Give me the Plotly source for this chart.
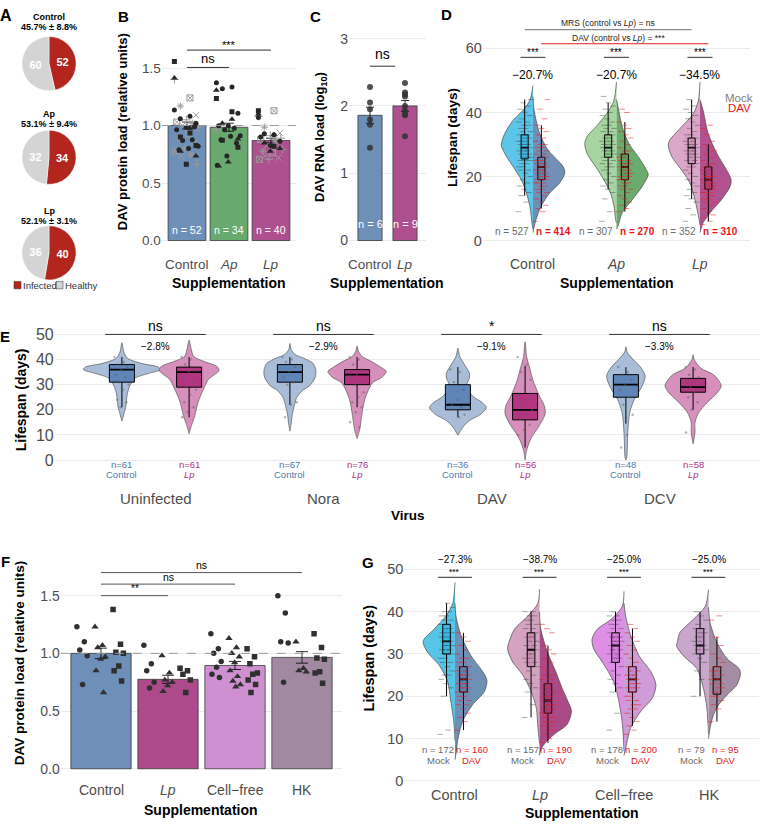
import plotly.graph_objects as go

# ======================= DATA =======================
# Panel A (pies)
A_GROUPS = ["Control", "Ap", "Lp"]
A_INFECTED = [52, 34, 40]
A_HEALTHY = [60, 32, 36]
A_PCT = ["45.7% ± 8.8%", "53.1% ± 9.4%", "52.1% ± 3.1%"]

# Panel B (DAV protein load)
B_CATS = ["Control", "<i>Ap</i>", "<i>Lp</i>"]
B_MEAN = [1.0, 0.985, 0.87]
B_SE = [0.03, 0.035, 0.02]
B_N = [52, 34, 40]
B_CIRCLE = [[1.134, 1.08, 1.06, 1.02, 0.986, 0.963, 0.877, 0.87, 0.82, 0.80, 0.79, 0.99],
            [1.371, 1.334, 1.32, 1.106, 0.997, 0.997, 0.977, 0.963, 0.911, 0.906, 0.877, 0.849, 0.734, 0.654],
            [1.07, 0.92, 0.929, 0.863, 0.826, 0.90]]
B_TRIANGLE = [[1.414, 0.977, 0.777, 0.734],
              [1.306, 1.054, 1.02, 0.883, 0.683, 0.649],
              [1.10, 0.92, 0.849, 0.80, 0.777]]
B_SQUARE = [[1.557, 0.934, 0.90, 0.826, 0.663],
            [1.234, 1.12, 0.871, 0.811],
            [1.129, 0.82]]
B_GRAY = [[1.40, 1.24, 1.17, 1.09, 1.05, 1.03, 1.02, 1.0, 0.986, 0.926, 0.89, 0.85, 0.80, 0.777, 0.749, 0.734, 0.663],
          [0.969],
          [1.08, 1.129, 0.986, 0.934, 0.911, 0.877, 0.849, 0.826, 0.791, 0.763, 0.777, 0.72, 0.706, 0.706, 0.877, 0.734, 0.89]]

# Panel C (DAV RNA load)
C_CATS = ["Control", "<i>Lp</i>"]
C_MEAN = [1.86, 2.0]
C_SE = [0.12, 0.08]
C_N = [6, 9]
C_PTS = [[2.28, 2.05, 1.95, 1.80, 1.72, 1.38],
         [2.34, 2.2, 2.17, 2.14, 2.0, 1.93, 1.88, 1.86, 1.55]]

# Panel D (lifespan, split violins)
D_CATS = ["Control", "<i>Ap</i>", "<i>Lp</i>"]
D_MOCK_STATS = [[25.5, 29, 33, 14, 44], [26, 29, 33, 16, 43], [24, 29, 32, 13, 44]]  # q1, median, q3, lo, hi
D_DAV_STATS = [[19, 23, 26, 10, 36], [19, 23, 27, 9, 37], [16, 19, 23, 6, 30]]
D_N_MOCK = [527, 307, 352]
D_N_DAV = [414, 270, 310]
D_PCT = ["−20.7%", "−20.7%", "−34.5%"]
D_MOCK_Y = [[48.4, 43.8, 40.6, 37.5, 33.4, 29.8, 27.2, 23.1, 19.0, 14.9, 10.8, 4.6, 3.5],
            [49.5, 43.8, 40.6, 36.5, 32.4, 30.3, 27.2, 23.1, 19, 14.9, 10.8, 6.7, 5.5],
            [49.5, 43.8, 39.6, 35.5, 31.4, 29.8, 26.2, 22, 18, 12.8, 7.7, 5]]
D_MOCK_W = [[0, 0.1, 0.32, 0.63, 0.89, 1.0, 0.89, 0.63, 0.37, 0.21, 0.1, 0.02, 0],
            [0, 0.08, 0.24, 0.56, 0.93, 1.0, 0.93, 0.66, 0.4, 0.19, 0.08, 0.03, 0],
            [0, 0.05, 0.21, 0.58, 0.95, 1.0, 0.89, 0.58, 0.32, 0.16, 0.05, 0]]
D_DAV_Y = [[45, 41, 37.5, 33.4, 28.3, 23.1, 21, 18, 14.9, 10.8, 6.7, 3.6, 2.5],
           [44, 40.6, 35.5, 30.3, 25.1, 21.5, 20.5, 16.9, 12.8, 8.7, 4.6, 3.5],
           [44, 40.6, 33.4, 27.2, 22, 19, 16.9, 12.8, 8.7, 5.6, 3.6, 2.5]]
D_DAV_W = [[0, 0.03, 0.1, 0.21, 0.47, 0.95, 1.0, 0.84, 0.53, 0.26, 0.1, 0.02, 0],
           [0, 0.07, 0.18, 0.39, 0.76, 0.97, 1.0, 0.81, 0.5, 0.18, 0.05, 0],
           [0, 0.1, 0.26, 0.53, 0.84, 0.98, 0.95, 0.68, 0.32, 0.1, 0.03, 0]]
D_MOCK_PTS = [
    [9, 12, 14, 15, 16, 17, 18, 19, 20, 21, 22, 22, 23, 23, 24, 24, 25, 25, 25, 26, 26, 26, 27, 27, 27, 28, 28, 28,
     29, 29, 29, 30, 30, 30, 31, 31, 31, 32, 32, 33, 33, 34, 34, 35, 35, 36, 36, 37, 37, 38, 39, 40, 41, 42, 43, 44],
    [6, 9, 13, 15, 16, 17, 18, 19, 20, 21, 22, 23, 23, 24, 24, 25, 25, 26, 26, 26, 27, 27, 27, 28, 28, 28, 29, 29,
     29, 30, 30, 30, 31, 31, 31, 32, 32, 33, 33, 34, 34, 35, 35, 36, 36, 37, 38, 39, 40, 41, 42, 43, 45],
    [6, 8, 10, 12, 13, 14, 15, 16, 17, 18, 19, 20, 21, 22, 23, 23, 24, 24, 25, 25, 26, 26, 27, 27, 27, 28, 28, 28,
     29, 29, 29, 30, 30, 30, 31, 31, 32, 32, 33, 33, 34, 35, 36, 37, 38, 39, 40, 41, 42, 44]]
D_DAV_PTS = [
    [6, 9, 10, 11, 12, 13, 14, 15, 15, 16, 16, 17, 17, 18, 18, 18, 19, 19, 19, 20, 20, 20, 21, 21, 21, 22, 22, 22,
     23, 23, 23, 24, 24, 24, 25, 25, 25, 26, 26, 27, 27, 28, 28, 29, 29, 30, 30, 31, 32, 33, 34, 35, 36, 38, 41, 44],
    [9, 10, 11, 12, 13, 14, 15, 16, 16, 17, 17, 18, 18, 19, 19, 19, 20, 20, 20, 21, 21, 21, 22, 22, 22, 23, 23, 23,
     24, 24, 24, 25, 25, 26, 26, 27, 27, 28, 28, 29, 30, 31, 32, 33, 34, 35, 36, 37, 40, 41],
    [5, 6, 7, 8, 9, 10, 11, 12, 12, 13, 13, 14, 14, 15, 15, 15, 16, 16, 16, 17, 17, 17, 18, 18, 18, 19, 19, 19,
     20, 20, 20, 21, 21, 22, 22, 23, 23, 24, 24, 25, 26, 27, 28, 29, 30, 31, 33, 35, 36]]

# Panel E (lifespan by virus)
E_VIRUS = ["Uninfected", "Nora", "DAV", "DCV"]
E_CTRL_STATS = [[31, 36, 38, 21, 41], [31, 35, 38, 22, 41], [20, 22, 30, 17, 37], [25, 30, 34, 14.5, 37]]
E_LP_STATS = [[29, 35, 37, 17, 41], [30, 34, 36, 21, 41], [16, 20, 26.5, 5, 37.5], [27, 29, 32.5, 20, 37]]
E_N_CTRL = [61, 67, 36, 48]
E_N_LP = [61, 76, 56, 58]
E_PCT = ["−2.8%", "−2.9%", "−9.1%", "−3.3%"]
E_SIG = ["ns", "ns", "*", "ns"]
E_CTRL_Y = [[46.7, 43, 40.5, 38.5, 37, 36, 34.5, 32.7, 30, 27, 24, 21, 19, 17, 15.5],
            [46.4, 44, 41.9, 40.6, 38.5, 36, 33, 29.4, 28, 25, 22, 18, 14, 11.5],
            [44.5, 41.2, 37.3, 34.6, 32.7, 29.4, 25.5, 22.9, 20.9, 18.3, 15.7, 13.1, 9.8],
            [45.1, 43, 39.9, 36.6, 33.4, 29.4, 24.2, 19, 11.1, 0.7, 0]]
E_CTRL_W = [[0, 0.05, 0.15, 0.5, 0.95, 1.0, 0.7, 0.35, 0.22, 0.15, 0.12, 0.1, 0.06, 0.03, 0],
            [0, 0.03, 0.15, 0.35, 0.6, 0.67, 0.66, 0.5, 0.35, 0.18, 0.12, 0.06, 0.03, 0],
            [0, 0.05, 0.2, 0.3, 0.3, 0.22, 0.38, 0.63, 0.74, 0.6, 0.3, 0.13, 0],
            [0, 0.03, 0.2, 0.4, 0.5, 0.42, 0.22, 0.1, 0.05, 0.02, 0]]
E_LP_Y = [[47.7, 44.5, 41.2, 39.2, 37.3, 35.7, 32, 28.1, 22.9, 17.7, 13.7, 10.5],
          [45.4, 43.5, 41.2, 39.2, 36.6, 35.3, 33, 30.7, 24.2, 17.7, 12.4, 8.5],
          [47.1, 41.2, 36, 32, 25.5, 21.6, 18.3, 13.7, 8.5, 3.3, 0],
          [41.9, 40, 36.6, 34, 31.4, 29.4, 26.8, 22.9, 19, 15, 11.1, 6.5]]
E_LP_W = [[0, 0.05, 0.12, 0.4, 0.72, 0.78, 0.5, 0.37, 0.23, 0.15, 0.06, 0],
          [0, 0.03, 0.13, 0.38, 0.65, 0.76, 0.65, 0.4, 0.2, 0.12, 0.07, 0],
          [0, 0.04, 0.13, 0.2, 0.37, 0.5, 0.52, 0.37, 0.15, 0.03, 0],
          [0, 0.03, 0.2, 0.53, 0.68, 0.73, 0.63, 0.37, 0.15, 0.05, 0.05, 0]]
E_CTRL_PTS = [[41, 39, 38, 37, 36, 34, 33, 31, 30, 28, 24, 23, 21],
              [41, 40, 39, 37, 35, 33, 31, 30, 23, 22, 17],
              [36, 35, 31, 28, 24, 22, 21, 20, 18, 17],
              [37, 35, 34, 32, 30, 28, 25, 22, 18, 10, 5]]
E_LP_PTS = [[41, 40, 38, 36, 35, 33, 31, 29, 28, 26, 23, 21, 19, 17],
            [41, 40, 38, 36, 34, 33, 31, 30, 27, 25, 23, 21, 19, 15, 13],
            [41, 38, 35, 32, 29, 26, 24, 22, 20, 18, 16, 14, 12, 10],
            [37, 36, 34, 33, 32, 31, 30, 29, 28, 27, 25, 23, 20, 11]]

# Panel F (DAV protein load, supplement forms)
F_CATS = ["Control", "<i>Lp</i>", "Cell−free", "HK"]
F_MEAN = [1.0, 0.775, 0.895, 0.965]
F_SE = [0.045, 0.035, 0.035, 0.05]
F_CIRCLE = [[1.23, 1.10, 1.03, 0.98, 0.73],
            [1.07, 0.91, 0.85, 0.75, 0.70],
            [1.17, 1.04, 1.0, 0.93, 0.88, 0.82, 0.79],
            [1.50, 1.35, 1.10, 1.09, 0.75]]
F_TRIANGLE = [[1.23, 1.07, 1.05, 0.97, 0.95, 0.85, 0.66],
              [0.98, 0.83, 0.77, 0.75, 0.72, 0.67],
              [1.13, 1.05, 1.0, 0.97, 0.92, 0.85, 0.80, 0.76, 0.73, 0.71],
              [1.10, 0.87, 0.85, 0.84]]
F_SQUARE = [[1.38, 1.08, 1.01, 1.00, 0.89, 0.85, 0.76],
            [0.87, 0.85, 0.82, 0.77, 0.66],
            [1.04, 0.97, 0.91, 0.83, 0.82, 0.77, 0.73, 0.66],
            [1.17, 1.05, 0.96, 0.95, 0.84, 0.83, 0.74]]

# Panel G (lifespan, supplement forms)
G_CATS = ["Control", "<i>Lp</i>", "Cell−free", "HK"]
G_MOCK_STATS = [[30, 33, 37, 20, 42], [27, 31, 35, 15, 40], [28, 32, 35, 21, 40], [30, 32, 36, 20, 40]]
G_DAV_STATS = [[21, 24, 27, 12, 35], [16, 19, 23, 9, 32], [21, 24, 27, 13, 36], [20.5, 24, 27, 14, 34]]
G_N_MOCK = [172, 157, 178, 79]
G_N_DAV = [160, 190, 200, 95]
G_PCT = ["−27.3%", "−38.7%", "−25.0%", "−25.0%"]
G_MOCK_Y = [[46.9, 42, 39, 35.9, 33.5, 32.7, 30.4, 27.3, 23.4, 18.8, 14.1, 9.5],
            [45.3, 42, 39, 35.9, 32.7, 31.2, 28.1, 25, 21.1, 17.2, 12.6, 9],
            [44.8, 41.3, 38.2, 35.9, 33.5, 31.2, 28.1, 23.4, 18.8, 13.4, 7.1],
            [45.2, 41.3, 38.2, 35.1, 32.7, 31.9, 29.6, 26.6, 21.9, 17.2, 11]]
G_MOCK_W = [[0, 0.07, 0.28, 0.65, 0.97, 1.0, 0.86, 0.49, 0.23, 0.13, 0.04, 0],
            [0, 0.05, 0.36, 0.78, 0.96, 1.0, 0.84, 0.52, 0.26, 0.1, 0.05, 0],
            [0, 0.05, 0.4, 0.83, 1.0, 0.95, 0.68, 0.32, 0.16, 0.05, 0],
            [0, 0.1, 0.47, 0.89, 0.98, 1.0, 0.79, 0.37, 0.16, 0.05, 0]]
G_DAV_Y = [[42, 39, 34.3, 29.6, 25.8, 23.8, 21.1, 18, 14.1, 10.2, 6.4, 5],
           [40, 35.9, 30.4, 25.8, 21.9, 18.8, 16.5, 13.4, 11, 8.7, 7.1, 6],
           [42, 39, 34.3, 29.6, 25.8, 22.7, 19.6, 16.5, 12.6, 8.7, 6],
           [41, 37.4, 32.7, 28.9, 26.6, 25.4, 22.7, 20.3, 18, 15.7, 12.6, 10]]
G_DAV_W = [[0, 0.03, 0.19, 0.5, 0.87, 1.0, 0.92, 0.55, 0.24, 0.1, 0.03, 0],
           [0, 0.04, 0.25, 0.51, 0.71, 0.89, 1.0, 0.87, 0.46, 0.15, 0.03, 0],
           [0, 0.05, 0.21, 0.47, 0.84, 1.0, 0.89, 0.53, 0.21, 0.08, 0],
           [0, 0.05, 0.26, 0.58, 0.95, 1.0, 0.89, 0.58, 0.32, 0.16, 0.05, 0]]
G_MOCK_PTS = [
    [11, 12, 20, 22, 23, 24, 25, 25, 26, 27, 28, 28, 29, 29, 30, 30, 30, 31, 31, 31, 32, 32, 32, 33, 33, 33, 34, 34,
     34, 35, 35, 35, 36, 36, 37, 37, 38, 38, 39, 39, 40, 40, 41, 42],
    [15, 18, 21, 22, 23, 24, 25, 26, 27, 27, 28, 28, 29, 29, 30, 30, 31, 31, 32, 32, 33, 33, 34, 34, 35, 35, 36, 36,
     37, 37, 38, 38, 39, 39, 40, 40],
    [12, 16, 21, 22, 23, 24, 25, 26, 27, 28, 28, 29, 29, 30, 30, 31, 31, 32, 32, 32, 33, 33, 33, 34, 34, 34, 35, 35,
     36, 36, 37, 37, 38, 38, 39, 39, 40],
    [20, 24, 26, 28, 29, 30, 30, 31, 31, 32, 32, 32, 33, 33, 34, 34, 35, 35, 36, 36, 37, 38, 39, 40]]
G_DAV_PTS = [
    [12, 14, 15, 16, 17, 18, 18, 19, 19, 20, 20, 21, 21, 21, 22, 22, 22, 23, 23, 23, 24, 24, 24, 25, 25, 25, 26, 26,
     27, 27, 28, 28, 29, 29, 30, 31, 32, 33, 34, 35],
    [9, 10, 11, 12, 12, 13, 13, 14, 14, 14, 15, 15, 15, 16, 16, 16, 17, 17, 17, 18, 18, 18, 19, 19, 19, 20, 20, 20,
     21, 21, 22, 22, 23, 23, 24, 24, 25, 25, 26, 27, 28, 29, 30, 31, 32, 35, 36, 37],
    [11, 12, 13, 14, 15, 16, 17, 17, 18, 18, 19, 19, 20, 20, 21, 21, 22, 22, 22, 23, 23, 23, 24, 24, 24, 25, 25, 25,
     26, 26, 27, 27, 28, 29, 30, 31, 32, 33, 34, 35, 36, 37],
    [14, 17, 18, 19, 20, 20, 21, 21, 22, 22, 23, 23, 24, 24, 24, 25, 25, 26, 26, 27, 27, 28, 29, 30, 32, 34, 38, 39]]

# ======================= STYLE =======================
W, H = 762, 828
FONT = "Liberation Sans, Arial, sans-serif"
TICK = "#4d4d4d"
GRID = "#ebebeb"
RED = "#e8181c"
GRAYTXT = "#6b6b6b"
PIE_RED = "#b3261e"
PIE_GRAY = "#d4d4d4"
BLUE = "#6d8fb8"
GREEN = "#68a970"
MAGENTA = "#ae4f8f"
B_COLORS = [BLUE, GREEN, MAGENTA]
C_COLORS = [BLUE, MAGENTA]
F_COLORS = [BLUE, "#ad4a8c", "#cf90d2", "#a18aa1"]
D_MOCK_COL = ["#5cc6ea", "#a6d5a1", "#dba7c8"]
D_DAV_COL = ["#7090b8", "#6aab6e", "#b0528f"]
D_MOCK_BOX = ["#3fb9e4", "#93cb8e", "#d195bd"]
D_DAV_BOX = ["#5f82b0", "#5a9f5f", "#a5417f"]
G_MOCK_COL = ["#56c5e8", "#d3a3c0", "#de8fe5", "#c9a6cc"]
G_DAV_COL = ["#6e8fb6", "#aa4b88", "#cf9bd8", "#a48ca4"]
G_MOCK_BOX = ["#38b8e2", "#c98fb2", "#d67ade", "#bc94c0"]
G_DAV_BOX = ["#5e80ac", "#9d3d7c", "#c388cf", "#957b95"]
E_CTRL_VIO, E_CTRL_BOX, E_CTRL_TXT = "#a9bdd8", "#5f85b8", "#4f78b0"
E_LP_VIO, E_LP_BOX, E_LP_TXT = "#d690bb", "#b1367f", "#b0307f"


def fx(p):
    return p / W


def fy(p):
    return 1 - p / H


fig = go.Figure()
anns = []
shapes = []
axes = {}


def text(t, x, y, size=12, color="black", bold=False, xref="paper", yref="paper",
         angle=0, xanchor="center", yanchor="middle"):
    if bold:
        t = f"<b>{t}</b>"
    if xref == "paper":
        x = fx(x)
    if yref == "paper":
        y = fy(y)
    anns.append(dict(text=t, x=x, y=y, xref=xref, yref=yref, showarrow=False,
                     font=dict(size=size, color=color, family=FONT), textangle=angle,
                     xanchor=xanchor, yanchor=yanchor, borderpad=0))


def hline(x0, x1, y, xref, yref, color="#333333", width=1, dash=None):
    if xref == "paper":
        x0, x1 = fx(x0), fx(x1)
    if yref == "paper":
        y = fy(y)
    shapes.append(dict(type="line", x0=x0, x1=x1, y0=y, y1=y, xref=xref, yref=yref,
                       line=dict(color=color, width=width, dash=dash)))


def ax_names(k):
    s = "" if k == 1 else str(k)
    return "x" + s, "y" + s


def setup(k, c0, xppu, xr, z0, yppu, yr, tickvals, ticktext=None, tsize=14):
    xs, ys = ax_names(k)
    axes["xaxis" + xs[1:]] = dict(domain=[fx(c0 + xr[0] * xppu), fx(c0 + xr[1] * xppu)], range=xr,
                                  showgrid=False, zeroline=False, showticklabels=False, showline=False,
                                  anchor=ys, fixedrange=True)
    axes["yaxis" + ys[1:]] = dict(domain=[fy(z0 - yr[0] * yppu), fy(z0 - yr[1] * yppu)], range=yr,
                                  showgrid=True, gridcolor=GRID, gridwidth=1, zeroline=False, showline=False,
                                  tickvals=tickvals, ticktext=ticktext, ticks="",
                                  tickfont=dict(size=tsize, color=TICK, family=FONT),
                                  anchor=xs, fixedrange=True)


def jitter(n, spread):
    return [((i * 0.6180339887) % 1 - 0.5) * spread for i in range(n)]


def half_violin(xc, ys, ws, half, side, color, k):
    xs_, ys_ = ax_names(k)
    s = -1 if side == "L" else 1
    return go.Scatter(x=[xc + s * w * half for w in ws], y=ys, mode="lines", fill="toself",
                      fillcolor=color, line=dict(color="#4a4a4a", width=0.7, shape="spline", smoothing=0.8),
                      xaxis=xs_, yaxis=ys_, hoverinfo="skip", showlegend=False)


def full_violin(xc, ys, ws, half, color, k):
    xs_, ys_ = ax_names(k)
    xx = [xc - w * half for w in ws] + [xc + w * half for w in reversed(ws)]
    yy = list(ys) + list(reversed(ys))
    return go.Scatter(x=xx, y=yy, mode="lines", fill="toself", fillcolor=color,
                      line=dict(color="#5a5a5a", width=0.7, shape="spline", smoothing=0.8),
                      xaxis=xs_, yaxis=ys_, hoverinfo="skip", showlegend=False)


def add_box(x, st, width, fill, k, lw=1.0):
    """Box-and-whisker drawn from the summary stats (q1, median, q3, lower, upper)."""
    xs_, ys_ = ax_names(k)
    q1, med, q3, lo, hi = st
    hw = width / 2
    common = dict(xaxis=xs_, yaxis=ys_, hoverinfo="skip", showlegend=False, mode="lines")
    fig.add_trace(go.Scatter(x=[x, x, None, x, x], y=[q3, hi, None, q1, lo],
                             line=dict(color="black", width=lw), **common))
    fig.add_trace(go.Scatter(x=[x - hw, x + hw, x + hw, x - hw, x - hw], y=[q1, q1, q3, q3, q1],
                             fill="toself", fillcolor=fill, line=dict(color="black", width=lw), **common))
    fig.add_trace(go.Scatter(x=[x - hw, x + hw], y=[med, med],
                             line=dict(color="black", width=lw * 1.8), **common))


def points(xc, vals, spread, color, k, symbol, size, opacity=1.0, lw=1):
    xs_, ys_ = ax_names(k)
    offs = jitter(len(vals), spread)
    return go.Scatter(x=[xc + o for o in offs], y=vals, mode="markers",
                      marker=dict(symbol=symbol, size=size, color=color, opacity=opacity,
                                  line=dict(color=color, width=lw)),
                      xaxis=xs_, yaxis=ys_, hoverinfo="skip", showlegend=False)


# ======================= AXES =======================
setup(1, 187, 42, [-0.6, 2.6], 239, 116.7, [-0.01, 1.78], [0, 0.5, 1.0, 1.5], ["0.0", "0.5", "1.0", "1.5"], 13.5)
setup(2, 370, 35, [-0.6, 1.6], 239, 68.3, [-0.02, 3.05], [0, 1, 2, 3], None, 14)
setup(3, 533, 83.5, [-0.6, 2.6], 239, 3.25, [-1, 70], [0, 20, 40, 60], None, 14.5)
setup(4, 155.5, 168, [-0.6, 3.6], 461.7, 2.548, [-1.5, 53], [0, 10, 20, 30, 40, 50], None, 16)
setup(5, 101, 67, [-0.6, 3.6], 775, 117.1, [-0.01, 1.78], [0, 0.5, 1.0, 1.5], ["0.0", "0.5", "1.0", "1.5"], 14)
setup(6, 455, 84.5, [-0.6, 3.6], 787.3, 4.293, [-0.5, 53], [0, 10, 20, 30, 40, 50], None, 14.5)

# ======================= PANEL A =======================
PIE_CY = [59.5, 154.5, 251.5]
PIE_TITLE_Y = [12.5, 111, 209.5]
for i, g in enumerate(A_GROUPS):
    cy = PIE_CY[i]
    fig.add_trace(go.Pie(values=[A_INFECTED[i], A_HEALTHY[i]], labels=["Infected", "Healthy"],
                         marker=dict(colors=[PIE_RED, PIE_GRAY], line=dict(color="white", width=0.5)),
                         sort=False, direction="clockwise", rotation=0, textinfo="value",
                         texttemplate="<b>%{value}</b>", textposition="inside",
                         insidetextorientation="horizontal",
                         textfont=dict(color="white", size=11, family=FONT),
                         domain=dict(x=[fx(21.5), fx(76.5)], y=[fy(cy + 27.5), fy(cy - 27.5)]),
                         showlegend=False, hoverinfo="skip"))
    text(g, 49, PIE_TITLE_Y[i], size=9, bold=True)
    text(A_PCT[i], 49, PIE_TITLE_Y[i] + 10, size=9, bold=True)

shapes.append(dict(type="rect", xref="paper", yref="paper", x0=fx(14), x1=fx(21), y0=fy(288), y1=fy(280.5),
                   fillcolor=PIE_RED, line=dict(color="#333", width=0.5)))
text("Infected", 22, 284.5, size=9.5, color="#333", xanchor="left")
shapes.append(dict(type="rect", xref="paper", yref="paper", x0=fx(56), x1=fx(63), y0=fy(288), y1=fy(280.5),
                   fillcolor=PIE_GRAY, line=dict(color="#333", width=0.5)))
text("Healthy", 64, 284.5, size=9.5, color="#333", xanchor="left")
text("A", 6, 11, size=16, bold=True)

# ======================= PANEL B =======================
fig.add_trace(go.Bar(x=[0, 1, 2], y=B_MEAN, width=0.9,
                     marker=dict(color=B_COLORS, line=dict(color="#3a3a3a", width=0.8)),
                     error_y=dict(type="data", array=B_SE, color="black", thickness=0.8, width=5),
                     xaxis="x", yaxis="y", hoverinfo="skip", showlegend=False))
hline(0, 1, 1.0, "x domain", "y", color="#9a9a9a", width=1, dash="dash")
GRAY_SYMS = ["cross-thin-open", "square-x-open", "asterisk-open", "x-thin-open"]
for i in range(3):
    fig.add_trace(points(i, B_GRAY[i], 0.6, "#9a9a9a", 1,
                         [GRAY_SYMS[j % 4] for j in range(len(B_GRAY[i]))], 6, lw=1))
    fig.add_trace(points(i, B_CIRCLE[i], 0.6, "#262626", 1, "circle", 5, lw=0))
    fig.add_trace(points(i, B_TRIANGLE[i], 0.6, "#262626", 1, "triangle-up", 6, lw=0))
    fig.add_trace(points(i, B_SQUARE[i], 0.6, "#262626", 1, "square", 5, lw=0))
    text(f"n = {B_N[i]}", i, 0.094, size=10.5, color="white", xref="x", yref="y")
    text(B_CATS[i], i, 263, size=13.5, color=TICK, xref="x", yref="paper")
hline(0, 1, 1.505, "x", "y", color="#333", width=1)
text("ns", 0.5, 1.51, size=13, xref="x", yref="y", yanchor="bottom")
hline(0, 2, 1.656, "x", "y", color="#333", width=1)
text("***", 1, 1.70, size=11, xref="x", yref="y")
text("DAV protein load (relative units)", 122, 129, size=13, bold=True, angle=-90)
text("Supplementation", 229, 282, size=14, bold=True)
text("B", 123, 12, size=15, bold=True)

# ======================= PANEL C =======================
fig.add_trace(go.Bar(x=[0, 1], y=C_MEAN, width=0.69,
                     marker=dict(color=C_COLORS, line=dict(color="#3a3a3a", width=0.8)),
                     error_y=dict(type="data", array=C_SE, color="black", thickness=0.8, width=4),
                     xaxis="x2", yaxis="y2", hoverinfo="skip", showlegend=False))
for i in range(2):
    fig.add_trace(points(i, C_PTS[i], 0.0, "#333333", 2, "circle", 6, lw=0, opacity=0.85))
    text(f"n = {C_N[i]}", i, 0.25, size=11, color="white", xref="x2", yref="y2")
    text(C_CATS[i], i, 263, size=13.5, color=TICK, xref="x2", yref="paper")
hline(0, 0.72, 2.59, "x2", "y2", color="#333", width=1)
text("ns", 0.36, 2.64, size=14, xref="x2", yref="y2", yanchor="bottom")
text("DAV RNA load (log<sub>10</sub>)", 320, 134, size=13, bold=True, angle=-90)
text("Supplementation", 387, 282, size=14, bold=True)
text("C", 315, 12, size=15, bold=True)

# ======================= PANEL D =======================
D_HALF = 0.38
for i in range(3):
    fig.add_trace(half_violin(i, D_MOCK_Y[i], D_MOCK_W[i], D_HALF, "L", D_MOCK_COL[i], 3))
    fig.add_trace(half_violin(i, D_DAV_Y[i], D_DAV_W[i], D_HALF, "R", D_DAV_COL[i], 3))
for i in range(3):
    add_box(i - 0.1, D_MOCK_STATS[i], 0.085, D_MOCK_BOX[i], 3)
    add_box(i + 0.1, D_DAV_STATS[i], 0.085, D_DAV_BOX[i], 3)
    fig.add_trace(points(i - 0.1, D_MOCK_PTS[i], 0.15, "rgba(50,50,50,0.5)", 3, "line-ew-open", 4, lw=0.8))
    fig.add_trace(points(i + 0.1, D_DAV_PTS[i], 0.15, "rgba(235,25,25,0.65)", 3, "line-ew-open", 4, lw=0.8))
    hline(i - 0.15, i + 0.15, 57.2, "x3", "y3", color="#333", width=1)
    text("***", i, 58.6, size=10, xref="x3", yref="y3")
    text(D_PCT[i], i, 54.3, size=12, xref="x3", yref="y3", yanchor="top")
    text(f"n = {D_N_MOCK[i]}", i - 0.25, 2.8, size=10, color=GRAYTXT, xref="x3", yref="y3")
    text(f"n = {D_N_DAV[i]}", i + 0.25, 2.8, size=10, color=RED, bold=True, xref="x3", yref="y3")
    text(D_CATS[i], i, 263, size=14, color=TICK, xref="x3", yref="paper")
hline(-0.1, 1.9, 25, "x3", "paper", color="#8a8a8a", width=1.2)
text("MRS (control vs <i>Lp</i>) = ns", 608, 18.3, size=8.5, color="#222")
hline(0.1, 2.1, 39.3, "x3", "paper", color="#e01b1b", width=1.2)
text("DAV (control vs <i>Lp</i>) = ***", 618, 33.5, size=8.5, color="#222")
text("Mock", 739, 94, size=11.5, color="#808080")
text("DAV", 739, 105, size=11.5, color=RED)
text("Lifespan (days)", 452, 135, size=13.5, bold=True, angle=-90)
text("Supplementation", 617, 282, size=14, bold=True)
text("D", 446, 10, size=15, bold=True)

# ======================= PANEL E =======================
E_HALF = 0.229
for i in range(4):
    fig.add_trace(full_violin(i - 0.2, E_CTRL_Y[i], E_CTRL_W[i], E_HALF, E_CTRL_VIO, 4))
    fig.add_trace(full_violin(i + 0.2, E_LP_Y[i], E_LP_W[i], E_HALF, E_LP_VIO, 4))
for i in range(4):
    add_box(i - 0.2, E_CTRL_STATS[i], 0.149, E_CTRL_BOX, 4, lw=1.0)
    add_box(i + 0.2, E_LP_STATS[i], 0.149, E_LP_BOX, 4, lw=1.0)
    fig.add_trace(points(i - 0.2, E_CTRL_PTS[i], 0.09, "rgba(90,90,90,0.45)", 4, "circle", 2.5, lw=0))
    fig.add_trace(points(i + 0.2, E_LP_PTS[i], 0.09, "rgba(90,90,90,0.45)", 4, "circle", 2.5, lw=0))
    hline(i - 0.3, i + 0.3, 50, "x4", "y4", color="#333", width=1)
    text(E_SIG[i], i, 49.7, size=14, xref="x4", yref="y4", yanchor="bottom")
    text(E_PCT[i], i, 45.1, size=10, xref="x4", yref="y4")
    text(f"n={E_N_CTRL[i]}", i - 0.2, 466, size=9.5, color=E_CTRL_TXT, xref="x4", yref="paper")
    text("Control", i - 0.2, 476, size=9.5, color=E_CTRL_TXT, xref="x4", yref="paper")
    text(f"n={E_N_LP[i]}", i + 0.2, 466, size=9.5, color=E_LP_TXT, xref="x4", yref="paper")
    text("<i>Lp</i>", i + 0.2, 476, size=9.5, color=E_LP_TXT, xref="x4", yref="paper")
    text(E_VIRUS[i], i, 501, size=15, color=TICK, xref="x4", yref="paper")
text("Lifespan (days)", 21, 401, size=14, bold=True, angle=-90)
text("Virus", 408, 518, size=13.5, bold=True)
text("E", 5, 336, size=15, bold=True)

# ======================= PANEL F =======================
fig.add_trace(go.Bar(x=[0, 1, 2, 3], y=F_MEAN, width=0.9,
                     marker=dict(color=F_COLORS, line=dict(color="#3a3a3a", width=0.8)),
                     error_y=dict(type="data", array=F_SE, color="black", thickness=0.8, width=6),
                     xaxis="x5", yaxis="y5", hoverinfo="skip", showlegend=False))
hline(0, 1, 1.0, "x5 domain", "y5", color="#9a9a9a", width=1, dash="dash")
for i in range(4):
    fig.add_trace(points(i - 0.27, F_CIRCLE[i], 0.18, "#303030", 5, "circle", 5.5, lw=0))
    fig.add_trace(points(i, F_TRIANGLE[i], 0.18, "#303030", 5, "triangle-up", 6.5, lw=0))
    fig.add_trace(points(i + 0.27, F_SQUARE[i], 0.18, "#303030", 5, "square", 5.5, lw=0))
    text(F_CATS[i], i, 797, size=14, color=TICK, xref="x5", yref="paper")
hline(0, 3, 1.70, "x5", "y5", color="#555", width=1)
text("ns", 1.5, 1.705, size=10.5, xref="x5", yref="y5", yanchor="bottom")
hline(0, 2, 1.60, "x5", "y5", color="#555", width=1)
text("ns", 1.0, 1.605, size=10.5, xref="x5", yref="y5", yanchor="bottom")
hline(0, 1, 1.50, "x5", "y5", color="#555", width=1)
text("**", 0.5, 1.505, size=10, xref="x5", yref="y5", yanchor="bottom")
text("DAV protein load (relative units)", 19, 668, size=13.5, bold=True, angle=-90)
text("Supplementation", 201, 817, size=14, bold=True)
text("F", 5, 565, size=15, bold=True)

# ======================= PANEL G =======================
G_HALF = 0.378
for i in range(4):
    fig.add_trace(half_violin(i, G_MOCK_Y[i], G_MOCK_W[i], G_HALF, "L", G_MOCK_COL[i], 6))
    fig.add_trace(half_violin(i, G_DAV_Y[i], G_DAV_W[i], G_HALF, "R", G_DAV_COL[i], 6))
for i in range(4):
    add_box(i - 0.1, G_MOCK_STATS[i], 0.09, G_MOCK_BOX[i], 6)
    add_box(i + 0.1, G_DAV_STATS[i], 0.09, G_DAV_BOX[i], 6)
    fig.add_trace(points(i - 0.1, G_MOCK_PTS[i], 0.15, "rgba(50,50,50,0.5)", 6, "line-ew-open", 4, lw=0.8))
    fig.add_trace(points(i + 0.1, G_DAV_PTS[i], 0.15, "rgba(235,25,25,0.65)", 6, "line-ew-open", 4, lw=0.8))
    hline(i - 0.2, i + 0.2, 48.1, "x6", "y6", color="#555", width=1.2)
    text("***", i, 49.3, size=8.5, xref="x6", yref="y6")
    text(G_PCT[i], i, 52.4, size=10, xref="x6", yref="y6")
    text(f"n = {G_N_MOCK[i]}", i - 0.2, 7.5, size=9.5, color=GRAYTXT, xref="x6", yref="y6")
    text(f"n = {G_N_DAV[i]}", i + 0.2, 7.5, size=9.5, color=RED, xref="x6", yref="y6")
    text("Mock", i - 0.2, 4.8, size=9.5, color=GRAYTXT, xref="x6", yref="y6")
    text("DAV", i + 0.2, 4.8, size=9.5, color=RED, xref="x6", yref="y6")
    text(G_CATS[i], i, 802, size=14.5, color=TICK, xref="x6", yref="paper")
text("Lifespan (days)", 369, 663, size=14.5, bold=True, angle=-90)
text("Supplementation", 582, 820, size=14, bold=True)
text("G", 368, 566, size=15, bold=True)

fig.update_layout(width=W, height=H, autosize=False, margin=dict(l=0, r=0, t=0, b=0, pad=0),
                  paper_bgcolor="white", plot_bgcolor="white", showlegend=False,
                  font=dict(family=FONT), annotations=anns, shapes=shapes, **axes)
fig.write_html("out.html")
